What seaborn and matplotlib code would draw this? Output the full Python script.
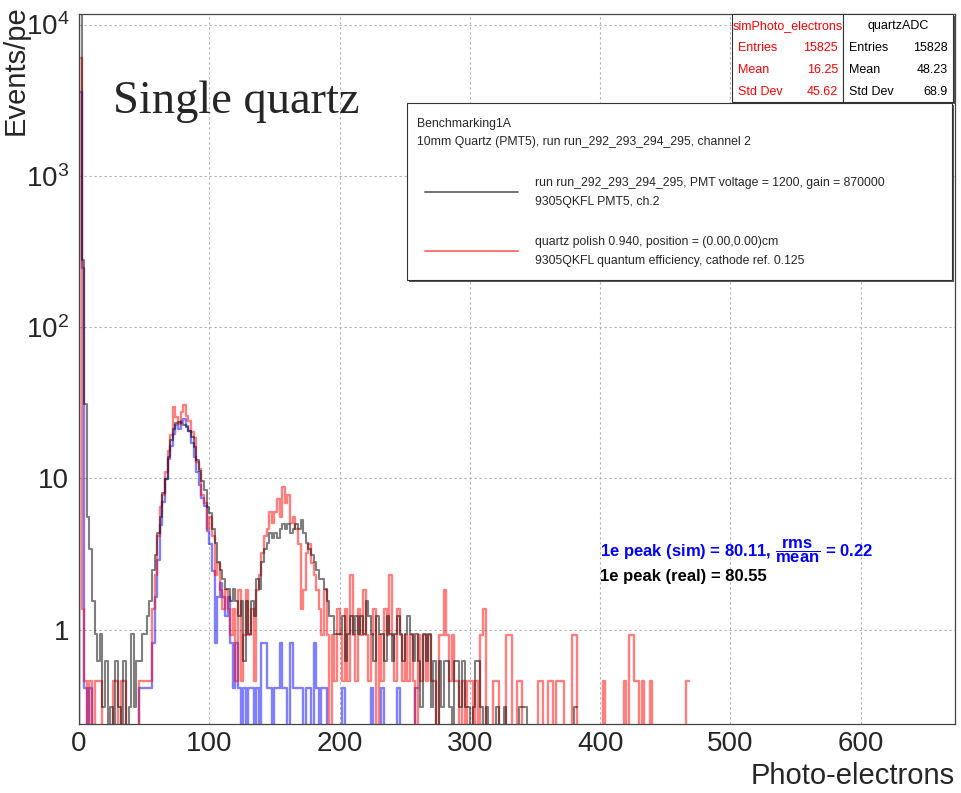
import numpy as np
import pandas as pd
import matplotlib.pyplot as plt
import matplotlib.patches as mpatches
import matplotlib.lines as mlines
from matplotlib.ticker import MultipleLocator, LogLocator, NullFormatter
import seaborn as sns

sns.set_style("white")
plt.rcParams["font.family"] = ["Liberation Sans", "DejaVu Sans"]
plt.rcParams["mathtext.fontset"] = "custom"
plt.rcParams["mathtext.rm"] = "Liberation Sans"
plt.rcParams["mathtext.bf"] = "Liberation Sans:bold"
plt.rcParams["mathtext.it"] = "Liberation Sans:italic"

# histogram contents, 2 pe wide bins starting at 0 pe (counts per bin)
bin_width = 2
real_counts = [
    50000, 900, 100, 18, 11, 5, 3, 2, 3, 1,
    2, 0, 1, 0, 2, 1, 0, 2, 0, 1,
    3, 1, 2, 2, 3, 3, 4, 5, 8, 10,
    14, 18, 26, 32, 45, 58, 68, 75, 76, 75,
    73, 70, 66, 61, 52, 43, 36, 31, 27, 21,
    19, 15, 12, 9, 8, 7, 6, 6, 5, 6,
    5, 4, 5, 2, 5, 3, 5, 4, 7, 6,
    9, 11, 12, 14, 13, 14, 13, 15, 16, 15,
    16, 14, 15, 16, 15, 17, 14, 12, 11, 10,
    9, 8, 7, 7, 6, 5, 4, 4, 3, 3,
    3, 4, 2, 3, 4, 3, 4, 3, 4, 3,
    5, 4, 3, 2, 4, 3, 3, 2, 4, 3,
    2, 3, 4, 3, 2, 3, 4, 3, 2, 3,
    2, 1, 3, 2, 3, 1, 2, 0, 2, 1,
    2, 2, 1, 0, 2, 2, 1, 2, 1, 1,
    0, 1, 2, 2, 1, 0, 1, 0, 0, 0,
    1, 0, 0, 1, 0, 0, 0, 0, 0, 1,
    1, 1, 0, 0, 0, 0, 0, 0, 0, 0,
    0, 0, 0, 0, 0, 0, 0, 0, 0, 0,
    1,
]
sim_counts = [
    13000, 3, 1, 0, 1, 0, 1, 1, 1, 0,
    0, 0, 0, 1, 1, 0, 1, 1, 0, 0,
    0, 0, 0, 1, 1, 1, 1, 1, 3, 5,
    9, 14, 17, 24, 33, 42, 64, 55, 50, 60,
    66, 56, 52, 44, 40, 28, 25, 17, 15, 10,
    12, 9, 5, 6, 4, 3, 4, 3, 2, 3,
    1, 4, 1, 2, 4, 2, 3, 1, 4, 5,
    7, 9, 10, 13, 11, 13, 16, 12, 19, 15,
    17, 11, 12, 10, 8, 3, 4, 7, 8, 6,
    5, 4, 3, 2, 4, 2, 0, 2, 1, 3,
    2, 1, 3, 1, 5, 2, 1, 3, 2, 4,
    2, 1, 2, 3, 0, 2, 1, 3, 2, 5,
    2, 1, 3, 2, 1, 2, 1, 2, 1, 0,
    2, 1, 2, 1, 2, 1, 1, 0, 2, 2,
    4, 2, 1, 2, 1, 1, 0, 1, 0, 1,
    1, 0, 1, 0, 2, 3, 0, 0, 0, 1,
    1, 0, 0, 0, 2, 2, 0, 0, 1, 1,
    0, 0, 0, 0, 0, 0, 1, 1, 0, 0,
    1, 1, 0, 1, 1, 1, 0, 0, 0, 2,
    2, 0, 0, 0, 0, 0, 0, 0, 0, 0,
    0, 1, 0, 0, 0, 0, 0, 0, 0, 1,
    0, 2, 2, 1, 1, 0, 1, 0, 0, 1,
    0, 0, 0, 0, 0, 0, 0, 0, 0, 0,
    0, 0, 0, 1,
]
sim_peak_counts = [
    8800, 600, 1, 0, 1, 0, 0, 0, 0, 0,
    0, 0, 0, 0, 0, 0, 0, 0, 0, 0,
    0, 0, 0, 1, 1, 1, 1, 1, 2, 4,
    7, 12, 17, 24, 33, 40, 48, 55, 52, 58,
    60, 54, 50, 42, 34, 27, 22, 18, 16, 11,
    9, 6, 2, 4, 5, 4, 3, 4, 2, 1,
    2, 1, 0, 1, 0, 1, 1, 0, 1, 0,
    2, 2, 1, 1, 0, 1, 1, 2, 1, 1,
    0, 2, 1, 1, 1, 1, 0, 1, 1, 0,
    2, 1, 0, 1, 1, 0, 0, 0, 0, 0,
    0, 1, 0, 0, 0, 0, 0, 0, 0, 0,
    0, 0, 1, 0, 0, 0, 1, 0, 0, 0,
    0, 0, 1, 0, 0, 0, 0, 0, 0, 1,
]
# events/pe for a single entry of each histogram
real_scale = 0.31
sim_scale = 0.46
sim_peak_scale = 0.41

W, H = 961, 793
fig = plt.figure(figsize=(W / 100, H / 100), dpi=100)
ax = fig.add_axes([79 / W, 1 - 724 / H, 876 / W, 710 / H])
ax.set_yscale("log")


def draw_hist(counts, scale, color, alpha, lw):
    counts = np.array([0] + counts, dtype=float)  # empty bin left of 0
    edges = (np.arange(len(counts) + 1) - 1) * bin_width
    df = pd.DataFrame({"pe": edges[:-1] + bin_width / 2, "w": counts * scale})
    sns.histplot(data=df, x="pe", weights="w", bins=edges.tolist(), element="step",
                 fill=False, color=color, alpha=alpha, linewidth=lw, ax=ax)


draw_hist(sim_peak_counts, sim_peak_scale, "blue", 0.5, 1.7)
draw_hist(sim_counts, sim_scale, "red", 0.5, 1.7)
draw_hist(real_counts, real_scale, "black", 0.5, 1.5)

ax.set_xlim(0, 672.3)
ax.set_ylim(0.238, 11740)

# axes style (ROOT-like)
ax.xaxis.set_major_locator(MultipleLocator(100))
ax.xaxis.set_minor_locator(MultipleLocator(20))
ax.set_yticks([1, 10, 100, 1000, 10000])
ax.set_yticklabels(["1", "10", r"$\mathregular{10^2}$", r"$\mathregular{10^3}$", r"$\mathregular{10^4}$"])
ax.yaxis.set_minor_locator(LogLocator(base=10, subs=np.arange(2, 10)))
ax.yaxis.set_minor_formatter(NullFormatter())
ax.tick_params(axis="x", which="major", direction="in", length=13.7, width=0.8,
               color="#444444", labelsize=20, pad=5)
ax.tick_params(axis="x", which="minor", direction="in", length=7, width=0.8, color="#444444")
ax.tick_params(axis="y", which="major", direction="in", length=18.7, width=0.8,
               color="#444444", labelsize=20, pad=7)
ax.tick_params(axis="y", which="minor", direction="in", length=9.4, width=0.8, color="#444444")
ax.grid(True, which="major", linestyle=(0, (2, 2.5)), color="#b0b0b0", linewidth=0.8)
ax.set_axisbelow(True)
for s in ax.spines.values():
    s.set_color("#444444")
    s.set_linewidth(0.9)

ax.set_xlabel("Photo-electrons", fontsize=21, loc="right")
ax.xaxis.set_label_coords(1.0, -(762 - 724) / 710)
ax.set_ylabel("Events/pe", fontsize=21, loc="top")
ax.yaxis.set_label_coords((30 - 79) / 876, 1 + 9 / 710)

ax.text((113 - 79) / 876, (724 - 113) / 710, "Single quartz", transform=ax.transAxes,
        fontsize=33.5, family="Liberation Serif", ha="left", va="baseline")


def fx(px):
    return px / W


def fy(py):
    return 1 - py / H


def box(x0, y0, x1, y1):
    fig.add_artist(mpatches.Rectangle((fx(x0 + 2), fy(y1 + 2)), fx(x1 - x0), (y1 - y0) / H,
                                      transform=fig.transFigure, facecolor="#555555",
                                      edgecolor="none", zorder=5))
    fig.add_artist(mpatches.Rectangle((fx(x0), fy(y1)), fx(x1 - x0), (y1 - y0) / H,
                                      transform=fig.transFigure, facecolor="white",
                                      edgecolor="#333333", linewidth=0.8, zorder=6))


# stats boxes
box(732, 14, 843, 102)
box(843, 14, 953, 102)
stats = [
    (732, 843, "red", "simPhoto_electrons", ["15825", "16.25", "45.62"]),
    (843, 953, "black", "quartzADC", ["15828", "48.23", "68.9"]),
]
for x0, x1, col, name, vals in stats:
    fig.text(fx((x0 + x1) / 2), fy(26), name, color=col, fontsize=9,
             ha="center", va="center", zorder=7)
    for k, (lab, v) in enumerate(zip(["Entries", "Mean", "Std Dev"], vals)):
        fig.text(fx(x0 + 6), fy(48 + 22 * k), lab, color=col, fontsize=9,
                 ha="left", va="center", zorder=7)
        fig.text(fx(x1 - 5), fy(48 + 22 * k), v, color=col, fontsize=9,
                 ha="right", va="center", zorder=7)

# legend box
box(407, 103, 952, 280)
fig.text(fx(417), fy(124), "Benchmarking1A", fontsize=8.8, ha="left", va="center", zorder=7)
fig.text(fx(417), fy(142), "10mm Quartz (PMT5), run run_292_293_294_295, channel 2",
         fontsize=8.8, ha="left", va="center", zorder=7)
entries = [
    ("black", 192, ["run run_292_293_294_295, PMT voltage = 1200, gain = 870000",
                    "9305QKFL PMT5, ch.2"]),
    ("red", 251, ["quartz polish 0.940, position = (0.00,0.00)cm",
                  "9305QKFL quantum efficiency, cathode ref. 0.125"]),
]
for col, yline, lines in entries:
    fig.add_artist(mlines.Line2D([fx(425), fx(518)], [fy(yline), fy(yline)], color=col,
                                 alpha=0.55, linewidth=1.4, transform=fig.transFigure, zorder=7))
    fig.text(fx(535), fy(yline - 9), lines[0], fontsize=8.8, ha="left", va="center", zorder=7)
    fig.text(fx(535), fy(yline + 10), lines[1], fontsize=8.8, ha="left", va="center", zorder=7)

# peak annotations
fig.text(fx(600), fy(551), r"1e peak (sim) = 80.11, $\mathbf{\dfrac{rms}{mean}}$ = 0.22",
         color="blue", fontsize=12, fontweight="bold", ha="left", va="center")
fig.text(fx(600), fy(577), "1e peak (real) = 80.55", color="black", fontsize=12,
         fontweight="bold", ha="left", va="center")

fig.savefig("out.png", dpi=100)
